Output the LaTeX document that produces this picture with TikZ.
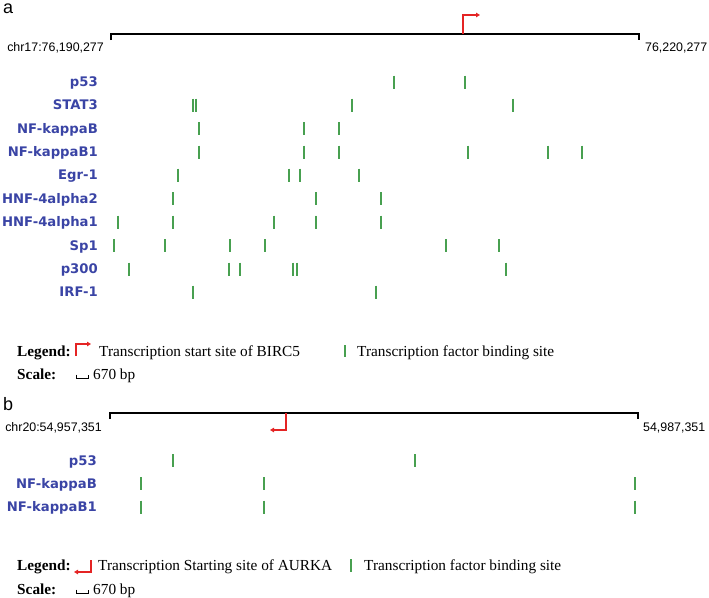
\documentclass[tikz,border=0pt]{standalone}
\usepackage{fontspec}
\setmainfont{Liberation Serif}
\newfontfamily\factorfont{DejaVu Sans}
\newfontfamily\coordfont{Liberation Sans}
\usetikzlibrary{arrows.meta}
\definecolor{tfblue}{RGB}{58,68,165}
\definecolor{tfgreen}{RGB}{72,160,80}
\definecolor{tssred}{RGB}{228,36,36}

\begin{document}
\begin{tikzpicture}[x=1pt, y=-1pt,
    panel/.style={font=\coordfont\fontsize{18}{18}\selectfont, anchor=base west, inner sep=0pt},
    chrlabel/.style={font=\coordfont\fontsize{12.4}{12}\selectfont, inner sep=0pt},
    factor/.style={font=\factorfont\bfseries\fontsize{13.2}{13}\selectfont, text=tfblue,
        anchor=base east, inner sep=0pt},
    legend/.style={font=\fontsize{15.3}{15}\selectfont, anchor=base west, inner sep=0pt},
    axis/.style={line width=1.8pt, black},
    site/.style={line width=1.6pt, tfgreen},
    tss/.style={line width=1.3pt, tssred, -{Triangle[length=4pt, width=4.5pt]}}
]
    \useasboundingbox (0,0) rectangle (709,597);

    \node[panel] (a) at (3,13) {a};
    \coordinate (a-start) at (111,34);
    \coordinate (a-end) at (639,34);
    \draw[axis] ([yshift=-6pt]a-start) -- (a-start) -- (a-end) -- ([yshift=-6pt]a-end);
    \node[chrlabel, anchor=base east] (a-left) at (104,51) {chr17:76,190,277};
    \node[chrlabel, anchor=base west] (a-right) at (645,51) {76,220,277};
    \coordinate (a-tss) at (463,34);
    \coordinate (a-tsstip) at (480,15);
    \draw[tss] (a-tss) |- (a-tsstip);

    \foreach \lab/\y/\xs in {p53/82/{394,465}, STAT3/105/{193,196,352,513},
        NF-kappaB/128.5/{199,304,339}, NF-kappaB1/152/{199,304,339,468,548,582},
        Egr-1/175/{178,289,300,359}, HNF-4alpha2/198.5/{173,316,381},
        HNF-4alpha1/222/{118,173,274,315.5,316.5,381},
        Sp1/245.5/{114,165,230,265,446,499}, p300/269/{129,229,240,293,297,506},
        IRF-1/292/{193,376}} {
        \node[factor] (a-\lab) at (98,\y+4.7) {\lab};
        \foreach \x in \xs \draw[site] (\x,\y-6.5) -- (\x,\y+6.5);
    }

    \node[legend, font=\fontsize{15.3}{15}\selectfont\bfseries] (a-leg) at (17,356) {Legend:};
    \coordinate (a-legtss) at (76,356);
    \coordinate (a-legtip) at (91,344);
    \draw[tss] (a-legtss) |- (a-legtip);
    \node[legend] (a-legtsstext) at (99,356) {Transcription start site of BIRC5};
    \coordinate (a-legsite) at (345,345);
    \draw[site] (a-legsite) -- ++(0,12);
    \node[legend] (a-legsitetext) at (357,356) {Transcription factor binding site};
    \node[legend, font=\fontsize{15.3}{15}\selectfont\bfseries] (a-scale) at (17,379) {Scale:};
    \draw[line width=0.8pt] (76,374.5) |- (88,378) -- (88,374.5);
    \node[legend] (a-scaletext) at (93,379) {670 bp};

    \node[panel] (b) at (3,410) {b};
    \coordinate (b-start) at (110,413);
    \coordinate (b-end) at (638,413);
    \draw[axis] ([yshift=-6pt]b-start) -- (b-start) -- (b-end) -- ([yshift=-6pt]b-end);
    \node[chrlabel, anchor=base east] (b-left) at (102,431) {chr20:54,957,351};
    \node[chrlabel, anchor=base west] (b-right) at (643,431) {54,987,351};
    \coordinate (b-tss) at (286,413);
    \coordinate (b-tsstip) at (270,430);
    \draw[tss] (b-tss) |- (b-tsstip);

    \foreach \lab/\y/\xs in {p53/460.5/{173,415}, NF-kappaB/483.5/{141,264,635},
        NF-kappaB1/507/{141,264,635}} {
        \node[factor] (b-\lab) at (97,\y+4.7) {\lab};
        \foreach \x in \xs \draw[site] (\x,\y-6.5) -- (\x,\y+6.5);
    }

    \node[legend, font=\fontsize{15.3}{15}\selectfont\bfseries] (b-leg) at (17,570) {Legend:};
    \coordinate (b-legtss) at (91,560);
    \coordinate (b-legtip) at (74,572);
    \draw[tss] (b-legtss) |- (b-legtip);
    \node[legend] (b-legtsstext) at (98,570) {Transcription Starting site of AURKA};
    \coordinate (b-legsite) at (351,559);
    \draw[site] (b-legsite) -- ++(0,13);
    \node[legend] (b-legsitetext) at (364,570) {Transcription factor binding site};
    \node[legend, font=\fontsize{15.3}{15}\selectfont\bfseries] (b-scale) at (17,594) {Scale:};
    \draw[line width=0.8pt] (76,589.5) |- (88,593) -- (88,589.5);
    \node[legend] (b-scaletext) at (93,594) {670 bp};
\end{tikzpicture}
\end{document}
